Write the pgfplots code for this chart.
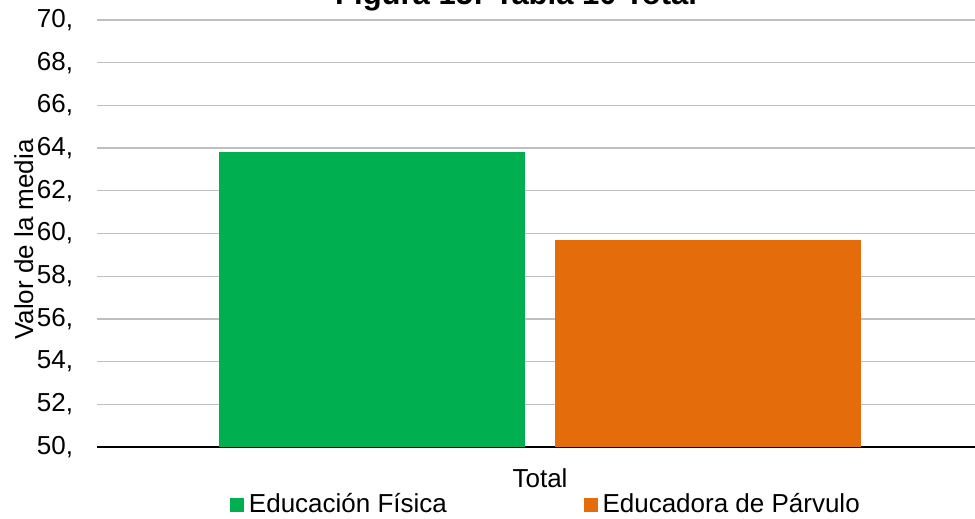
\documentclass[border=0pt]{standalone}
\usepackage{fontspec}
\setmainfont{Liberation Sans}
\usepackage{pgfplots}
\pgfplotsset{compat=1.18}
\definecolor{egreen}{RGB}{0,176,80}
\definecolor{eorange}{RGB}{228,108,10}
\newcommand{\fs}{\fontsize{19.5pt}{23pt}\selectfont}
\pgfplotsset{layers/mine/.define layer set={axis background,axis grid,pre main,main,axis ticks,axis lines,axis tick labels,axis descriptions,axis foreground}{}}
\begin{document}
\begin{tikzpicture}
\begin{axis}[
 name=ax,
 set layers=mine,
 scale only axis, width=664.5pt, height=320.25pt,
 xmin=-1, xmax=1, ymin=50, ymax=70,
 ybar=22.5pt, bar width=229.5pt,
 axis x line*=bottom, axis y line*=left,
 y axis line style={draw=none},
 x axis line style={black, line width=1.5pt},
 ytick={50,52,...,70},
 yticklabels={{50,},{52,},{54,},{56,},{58,},{60,},{62,},{64,},{66,},{68,},{70,}},
 xtick={0}, xticklabels={Total},
 major tick length=0pt,
 ymajorgrids, grid style={color=gray!50, line width=1pt},
 tick label style={font=\fs},
 yticklabel style={anchor=east, inner sep=0pt, xshift=-17.8pt},
 xticklabel style={anchor=base, inner sep=0pt, yshift=-30.4pt},
 ylabel={Valor de la media},
 ylabel style={font=\fs, at={(axis description cs:-0.0722,0.486)}, anchor=base, inner sep=0pt},
 title={Figura 15: Tabla 10 Total},
 title style={font=\bfseries\fontsize{23.25pt}{28pt}\selectfont, at={(axis description cs:0.473,1)}, anchor=base, yshift=5.25pt, inner sep=0pt},
 legend columns=2,
 legend style={font=\fs, draw=none, fill=none, inner sep=0pt, outer sep=0pt,
   nodes={inner sep=0pt},
   /tikz/every odd column/.append style={column sep=3.75pt},
   /tikz/every even column/.append style={column sep=102.4pt},
   at={(axis description cs:0.1501,-0.157)}, anchor=south west},
]
\addplot[fill=egreen, draw=none, legend image code/.code={\fill[egreen] (0pt,-6.3pt) rectangle (10.5pt,4.2pt);}] coordinates {(0,63.84)};
\addplot[fill=eorange, draw=none, legend image code/.code={\fill[eorange] (0pt,-6.3pt) rectangle (10.5pt,4.2pt);}] coordinates {(0,59.69)};
\legend{Educación Física, Educadora de Párvulo}
\end{axis}
\pgfresetboundingbox
\useasboundingbox ([xshift=-72.75pt,yshift=-54pt]ax.south west) rectangle ([xshift=658.5pt,yshift=15pt]ax.north west);
\end{tikzpicture}
\end{document}
